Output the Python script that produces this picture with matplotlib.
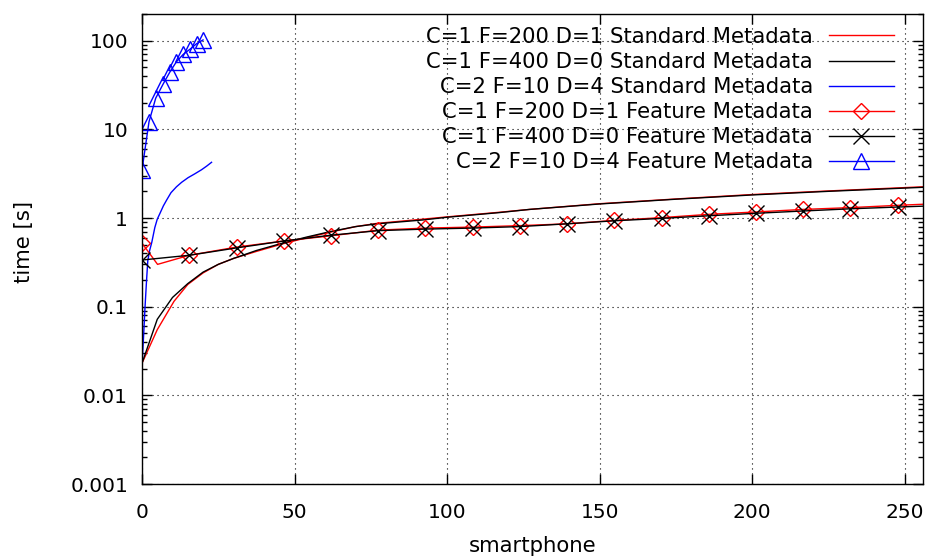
import matplotlib
matplotlib.use("Agg")
import matplotlib.pyplot as plt
from matplotlib.ticker import FixedLocator, FixedFormatter, LogLocator, NullFormatter, NullLocator

plt.rcParams['font.family'] = ['DejaVu Sans']

# ---- data ----
std_red_x = [0, 5, 10.5, 15, 20, 25, 30, 37.5, 46, 54, 61.5, 70, 77, 92, 100, 117, 127, 150, 175, 200, 225, 256]
std_red_y = [0.023, 0.055, 0.115, 0.178, 0.24, 0.30, 0.35, 0.42, 0.51, 0.60, 0.69, 0.80, 0.87, 0.97, 1.03, 1.16, 1.25, 1.45, 1.64, 1.84, 2.02, 2.25]

std_black_x = [0, 5, 10, 15, 20, 25, 30, 37.5, 46, 54, 61.5, 70, 77, 92, 100, 117, 127, 150, 175, 200, 225, 256]
std_black_y = [0.023, 0.072, 0.127, 0.182, 0.245, 0.30, 0.35, 0.43, 0.52, 0.61, 0.70, 0.80, 0.86, 0.95, 1.02, 1.15, 1.25, 1.44, 1.63, 1.82, 2.0, 2.22]

std_blue_x = [0, 0.5, 1.0, 1.5, 1.9, 2.5, 3.2, 4.2, 5.0, 5.9, 7.0, 8.1, 9.5, 11.3, 13.0, 15.1, 17.3, 19.5, 21.2, 22.8]
std_blue_y = [0.022, 0.045, 0.1, 0.2, 0.33, 0.43, 0.53, 0.78, 0.97, 1.13, 1.37, 1.6, 1.93, 2.25, 2.53, 2.85, 3.15, 3.5, 3.85, 4.25]

feat_red_x = [0, 5.1, 15.5, 31, 46.4, 61.9, 77.4, 92.9, 108.4, 123.8, 139.3, 154.8, 170.3, 185.8, 201.2, 216.7, 232.2, 247.7, 256]
feat_red_y = [0.52, 0.30, 0.38, 0.47, 0.55, 0.63, 0.73, 0.77, 0.79, 0.82, 0.86, 0.94, 1.01, 1.10, 1.17, 1.25, 1.31, 1.39, 1.43]
feat_red_marks = [0, 2, 3, 4, 5, 6, 7, 8, 9, 10, 11, 12, 13, 14, 15, 16, 17]

feat_black_x = [0, 15.5, 31, 46.4, 61.9, 77.4, 92.9, 108.4, 123.8, 139.3, 154.8, 170.3, 185.8, 201.2, 216.7, 232.2, 247.7, 256]
feat_black_y = [0.336, 0.38, 0.46, 0.55, 0.64, 0.72, 0.75, 0.77, 0.80, 0.86, 0.93, 0.99, 1.06, 1.13, 1.20, 1.27, 1.33, 1.36]
feat_black_marks = list(range(17))

feat_blue_x = [0, 2.3, 4.5, 6.9, 9.2, 11.3, 13.5, 15.7, 17.9, 20.0]
feat_blue_y = [3.48, 12.2, 22.5, 32.3, 44.7, 58, 70, 80, 92.5, 102]

labels = ["C=1 F=200 D=1 Standard Metadata",
          "C=1 F=400 D=0 Standard Metadata",
          "C=2 F=10 D=4 Standard Metadata",
          "C=1 F=200 D=1 Feature Metadata",
          "C=1 F=400 D=0 Feature Metadata",
          "C=2 F=10 D=4 Feature Metadata"]

x_ticks = [0, 50, 100, 150, 200, 250]
y_ticks = [0.001, 0.01, 0.1, 1, 10, 100]
y_tick_labels = ["0.001", "0.01", "0.1", "1", "10", "100"]

# ---- figure ----
W, H = 928, 556
fig = plt.figure(figsize=(W / 100, H / 100), dpi=100)
ax = fig.add_axes([142 / W, 1 - 484 / H, (923 - 142) / W, (484 - 14) / H])

FS = 14.5
LFS = 15.2
lw = 1.0
ax.plot(std_red_x, std_red_y, color='#ff0000', lw=lw, label=labels[0])
ax.plot(std_black_x, std_black_y, color='#000000', lw=lw, label=labels[1])
ax.plot(std_blue_x, std_blue_y, color='#0000ff', lw=lw, label=labels[2])
ax.plot(feat_red_x, feat_red_y, color='#ff0000', lw=lw, marker='D', ms=8,
        mfc='none', mec='#ff0000', mew=1.0, markevery=feat_red_marks, label=labels[3])
ax.plot(feat_black_x, feat_black_y, color='#000000', lw=lw, marker='x', ms=12,
        mew=1.0, markevery=feat_black_marks, label=labels[4])
ax.plot(feat_blue_x, feat_blue_y, color='#0000ff', lw=lw, marker='^', ms=11.5,
        mfc='none', mec='#0000ff', mew=1.0, label=labels[5])

ax.set_yscale('log')
ax.set_xlim(0, 256)
ax.set_ylim(0.001, 200)

ax.xaxis.set_major_locator(FixedLocator(x_ticks))
ax.xaxis.set_minor_locator(NullLocator())
ax.yaxis.set_major_locator(FixedLocator(y_ticks))
ax.yaxis.set_major_formatter(FixedFormatter(y_tick_labels))
ax.yaxis.set_minor_locator(LogLocator(base=10, subs=range(2, 10), numticks=20))
ax.yaxis.set_minor_formatter(NullFormatter())

ax.tick_params(axis='both', which='both', direction='in', top=True, right=True,
               labelsize=FS, width=1.0, color='black')
ax.tick_params(axis='both', which='major', length=7)
ax.tick_params(axis='both', which='minor', length=3.5)
ax.tick_params(axis='x', which='major', pad=13.5)
ax.tick_params(axis='y', which='major', pad=10)

for s in ax.spines.values():
    s.set_linewidth(1.0)

ax.grid(True, which='major', color='black', lw=0.8, linestyle=(0, (1, 3.5)))

ax.set_xlabel("smartphone", fontsize=15.3)
ax.set_ylabel("time [s]", fontsize=15.3)
ax.xaxis.set_label_coords(0.5, -(536 - 484) / 470)
ax.yaxis.set_label_coords(-(142 - 34) / 781, 0.515)

leg = ax.legend(loc='upper right', bbox_to_anchor=(0.963, 0.9726), frameon=False,
                markerfirst=False, fontsize=LFS, handlelength=3.1, handletextpad=0.75,
                labelspacing=0.24, borderpad=0, borderaxespad=0, numpoints=1)

fig.savefig("out.png", dpi=100)
